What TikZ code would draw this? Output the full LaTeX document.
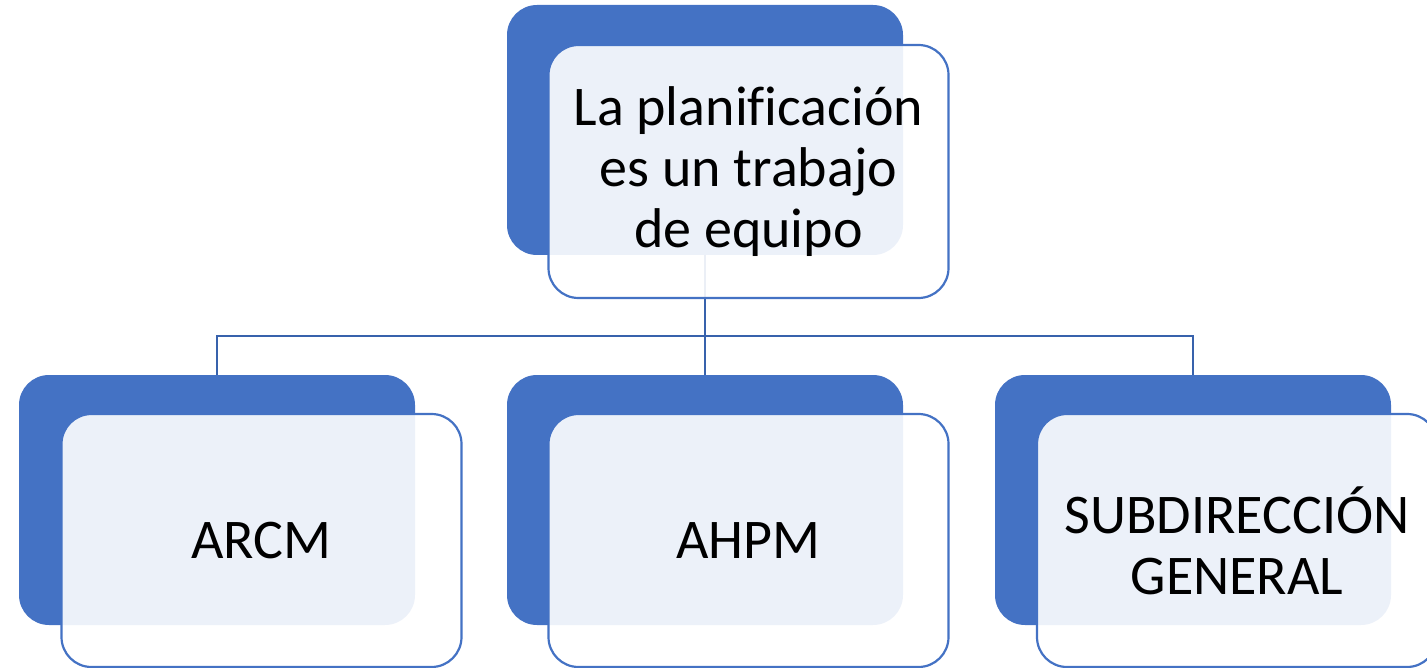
\documentclass[tikz,border=0pt]{standalone}
\usepackage{fontspec}
\setmainfont[Ligatures=NoCommon]{Carlito}
\definecolor{accblue}{HTML}{4472C4}
\definecolor{connblue}{HTML}{3862AC}
\tikzset{
  backbox/.style={fill=accblue, draw=none, rounded corners=30pt, inner sep=0pt, outer sep=0pt,
    minimum width=396pt, minimum height=250pt},
  frontbox/.style={fill=white, fill opacity=0.9, text opacity=1, draw=accblue, line width=2.2pt,
    rounded corners=30pt, inner sep=0pt, outer sep=0pt,
    minimum width=400pt, minimum height=253pt, align=center,
    font=\fontsize{56}{61}\selectfont},
  conn/.style={draw=connblue, line width=2.2pt}
}
\begin{document}
\begin{tikzpicture}[x=1pt,y=-1pt]
\useasboundingbox (0,0) rectangle (1427,668);
\clip (0,0) rectangle (1427,668);
% back boxes
\node[backbox] (tb) at (705,130) {};
\node[backbox] (b1) at (217,500) {};
\node[backbox] (b2) at (705,500) {};
\node[backbox] (b3) at (1193,500) {};
% connectors
\coordinate (bus) at (0,336);
\draw[conn] (tb.south) -- (tb.south |- bus) -| (b1.north);
\draw[conn] (tb.south) -- (b2.north);
\draw[conn] (tb.south |- bus) -| (b3.north);
% front boxes
\node[frontbox] (tf) at (748.5,171.5) {La planificación\\es un trabajo\\de equipo};
\node[frontbox] (f1) at (261.5,540.5) {ARCM};
\node[frontbox] (f2) at (748.5,540.5) {AHPM};
\node[frontbox] (f3) at (1237,540.5) {SUBDIRECCIÓN\\GENERAL};
\end{tikzpicture}
\end{document}
